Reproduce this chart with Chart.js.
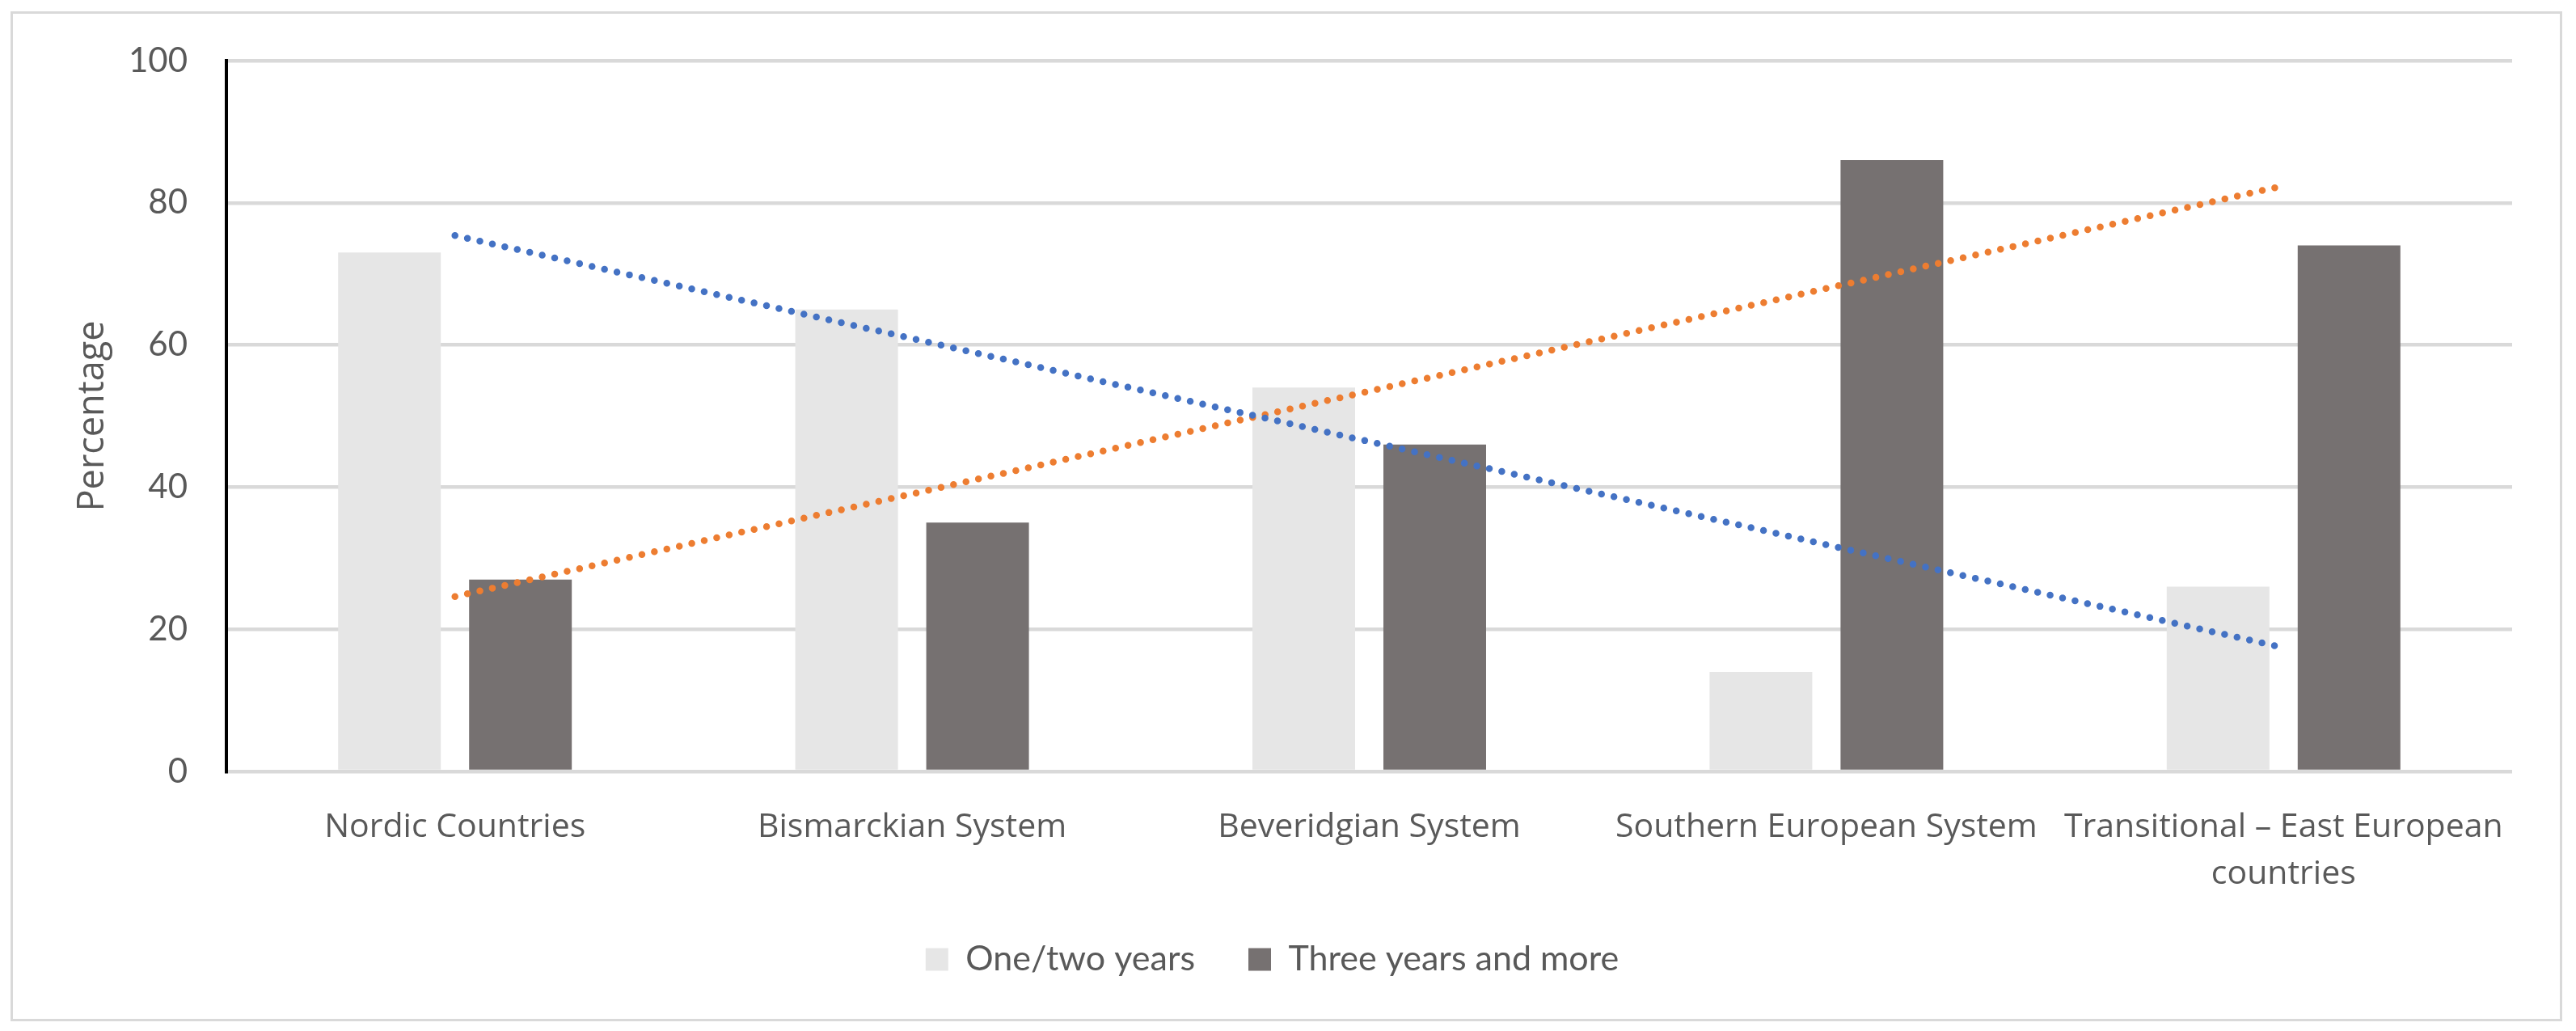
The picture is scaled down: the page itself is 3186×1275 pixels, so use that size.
<!DOCTYPE html>
<html>
<head>
<meta charset="utf-8">
<script src="https://cdn.jsdelivr.net/npm/chart.js@4"></script>
<style>
  html, body { margin: 0; padding: 0; background: #ffffff; }
  #wrap { width: 3186px; height: 1275px; }
</style>
</head>
<body>
<div id="wrap"><canvas id="c" width="3186" height="1275"></canvas></div>
<script>
const categories = [
  "Nordic Countries",
  "Bismarckian System",
  "Beveridgian System",
  "Southern European System",
  ["Transitional \u2013 East European", "countries"]
];
const oneTwoYears = [73, 65, 54, 14, 26];
const threeYearsMore = [27, 35, 46, 86, 74];
// Linear trendline end values (first and last category)
const trendOneTwo = [75.4, null, null, null, 17.4];
const trendThree = [24.6, null, null, null, 82.4];
const yTicks = [0, 20, 40, 60, 80, 100];

const FONT = "Lato, 'Open Sans', sans-serif";
const FONT2 = "'Open Sans', Lato, sans-serif";
const TEXT = "#595959";

const framePlugin = {
  id: 'frame',
  beforeDraw(chart) {
    const ctx = chart.ctx;
    ctx.save();
    ctx.fillStyle = '#ffffff';
    ctx.fillRect(0, 0, chart.width, chart.height);
    ctx.strokeStyle = '#D9D9D9';
    ctx.lineWidth = 3;
    ctx.strokeRect(14.5, 15.5, 3153, 1246);
    ctx.restore();
  }
};

new Chart(document.getElementById('c'), {
  data: {
    labels: categories,
    datasets: [
      {
        type: 'line',
        label: 'Linear (One/two years)',
        data: trendOneTwo,
        spanGaps: true,
        borderColor: '#4472C4',
        borderWidth: 8.5,
        borderDash: [0, 15.8],
        borderCapStyle: 'round',
        pointRadius: 0,
        fill: false,
        order: 0
      },
      {
        type: 'line',
        label: 'Linear (Three years and more)',
        data: trendThree,
        spanGaps: true,
        borderColor: '#ED7D31',
        borderWidth: 8.5,
        borderDash: [0, 15.8],
        borderCapStyle: 'round',
        pointRadius: 0,
        fill: false,
        order: 0
      },
      {
        type: 'bar',
        label: 'One/two years',
        data: oneTwoYears,
        backgroundColor: '#E6E6E6',
        borderWidth: 0,
        categoryPercentage: 0.573,
        barPercentage: 0.784,
        order: 1
      },
      {
        type: 'bar',
        label: 'Three years and more',
        data: threeYearsMore,
        backgroundColor: '#767171',
        borderWidth: 0,
        categoryPercentage: 0.573,
        barPercentage: 0.784,
        order: 1
      }
    ]
  },
  options: {
    responsive: false,
    devicePixelRatio: 1,
    animation: false,
    layout: { padding: { left: 40, right: 79, top: 75, bottom: 57 } },
    plugins: {
      tooltip: { enabled: false },
      legend: {
        position: 'bottom',
        labels: {
          filter: (item, data) => data.datasets[item.datasetIndex].type === 'bar',
          boxWidth: 28,
          boxHeight: 28,
          padding: 66,
          color: TEXT,
          font: { family: FONT, size: 43 }
        }
      }
    },
    scales: {
      x: {
        grid: { display: false, drawTicks: false },
        border: { display: false },
        ticks: {
          color: TEXT,
          font: { family: FONT2, size: 41, lineHeight: 1.42 },
          padding: 40,
          maxRotation: 0,
          minRotation: 0,
          autoSkip: false
        },
        afterFit: (s) => { s.height = 145; }
      },
      y: {
        min: 0,
        max: 100,
        afterBuildTicks: (s) => { s.ticks = yTicks.map(v => ({ value: v })); },
        grid: { color: '#D9D9D9', lineWidth: 4.5, drawTicks: false },
        border: { display: true, color: '#000000', width: 4 },
        ticks: {
          color: TEXT,
          font: { family: FONT, size: 42 },
          padding: 48
        },
        title: {
          display: true,
          text: 'Percentage',
          color: TEXT,
          font: { family: FONT2, size: 45 },
          padding: { top: 48, bottom: 0 }
        },
        afterFit: (s) => { s.width = 240; }
      }
    }
  },
  plugins: [framePlugin]
});
</script>
</body>
</html>
